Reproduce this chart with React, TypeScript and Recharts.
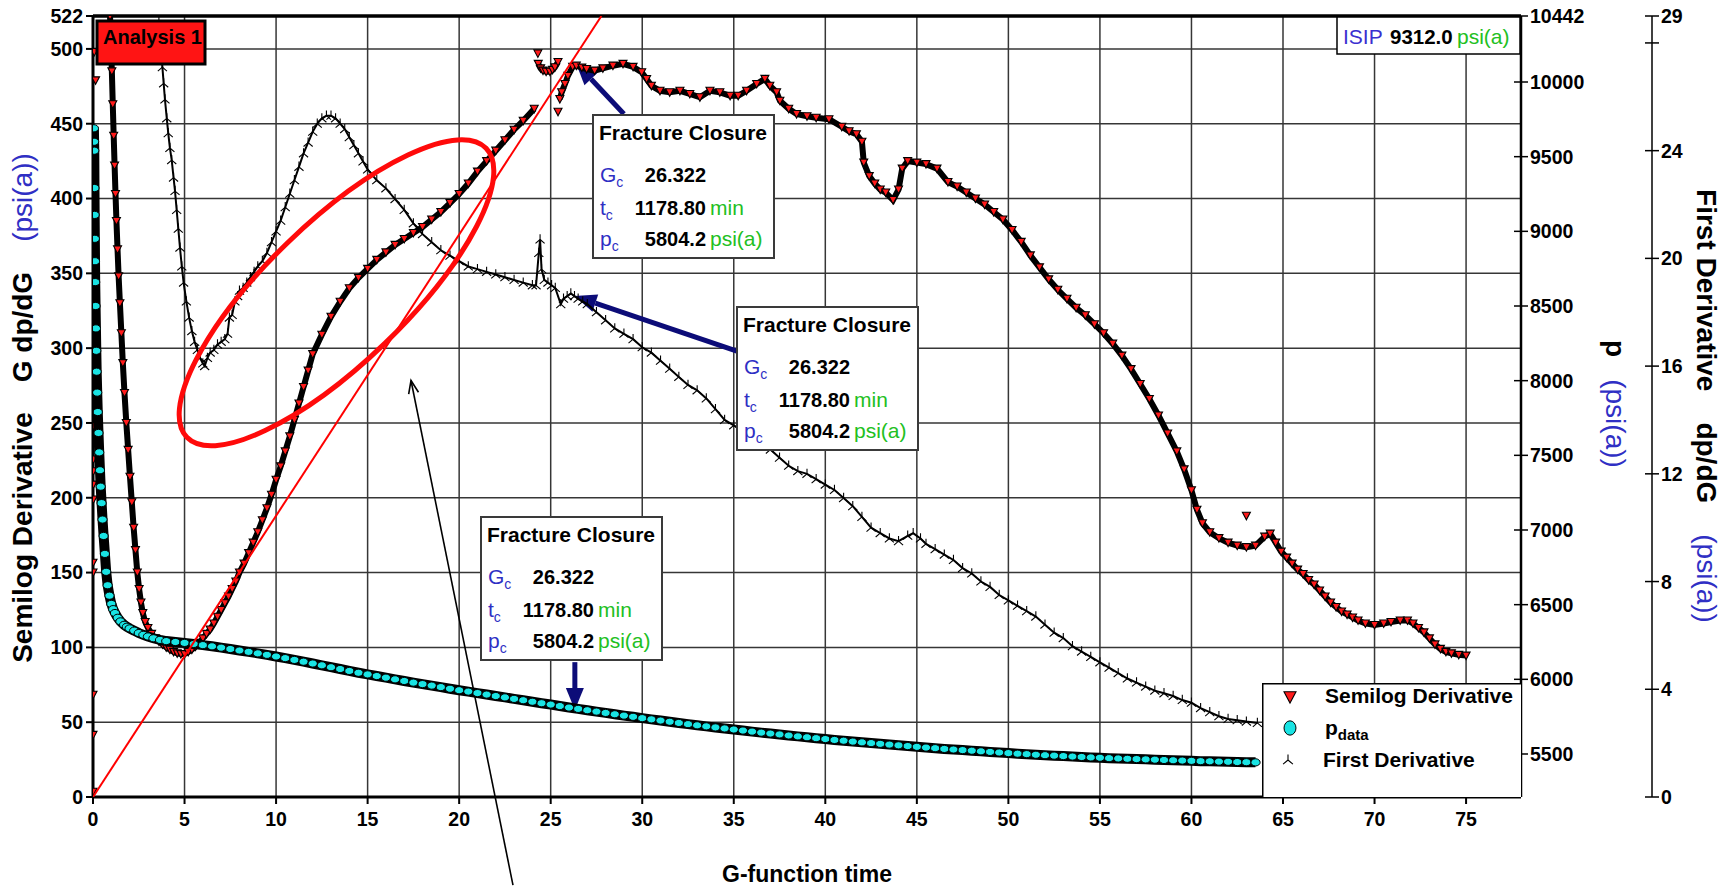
import React from "react";
import {
  ComposedChart,
  Scatter,
  XAxis,
  YAxis,
  CartesianGrid,
  ReferenceLine,
  ReferenceDot,
  Legend,
} from "recharts";

const FONT = "'Liberation Sans', Arial, Helvetica, sans-serif";
const BLUE = "#2f2fc4";
const GREEN = "#22c022";
const NAVY = "#0c0c78";

// axes
const gTicks = [0, 5, 10, 15, 20, 25, 30, 35, 40, 45, 50, 55, 60, 65, 70, 75];
const semilogTicks = [0, 50, 100, 150, 200, 250, 300, 350, 400, 450, 500, 522];
const pressureTicks = [5500, 6000, 6500, 7000, 7500, 8000, 8500, 9000, 9500, 10000, 10442];
const derivTicks = [0, 4, 8, 12, 16, 20, 24, 28, 29];

// closure pick / ISIP
const closureG = "26.322";
const closureT = "1178.80";
const closureP = "5804.2";
const isipValue = "9312.0";

// Semilog derivative G dp/dG [G, psi]
const semilogLoose = [
  [0.0, 3.5], [0.0, 41.5], [0.0, 68.3], [0.0, 150], [0.0, 156.6], [0.01, 198.8], [0.01, 208.8],
  [0.01, 217.7], [0.01, 225.6], [0.02, 248], [0.07, 498], [0.14, 479], [24.3, 497], [25.4, 458], [63.0, 188],
];
const semilogBranchA = [
  [0.93, 522], [0.98, 505], [1.03, 485], [1.08, 463], [1.13, 442], [1.18, 422], [1.23, 403], [1.28, 385],
  [1.34, 366], [1.4, 348], [1.47, 330], [1.55, 310], [1.63, 290], [1.72, 270], [1.82, 250], [1.92, 232],
  [2.02, 214], [2.12, 197], [2.22, 180], [2.32, 165], [2.42, 150], [2.52, 139], [2.62, 130], [2.72, 123],
  [2.85, 117], [3.0, 113], [3.2, 109], [3.4, 106], [3.6, 104], [3.8, 102], [4.0, 100], [4.2, 98.5],
  [4.4, 97], [4.6, 96], [4.8, 95.5], [5.0, 95.5], [5.2, 97], [5.4, 98.5], [5.6, 100.5], [5.8, 103],
  [6.0, 106], [6.2, 109], [6.4, 112], [6.6, 116], [6.8, 120.5], [7.0, 125], [7.2, 129.5], [7.4, 134],
  [7.6, 139], [7.8, 144], [8.0, 150], [8.25, 156], [8.5, 163], [8.75, 170], [9.0, 177], [9.25, 185],
  [9.5, 193], [9.75, 202], [10.0, 212], [10.25, 221], [10.5, 231], [10.75, 241], [11.0, 252], [11.25, 263],
  [11.5, 274], [11.75, 285], [12.0, 296], [12.5, 309], [13.0, 321], [13.5, 331], [14.0, 340], [14.5, 347],
  [15.0, 353], [15.5, 359], [16.0, 364], [16.5, 369], [17.0, 373], [17.5, 377], [18.0, 381], [18.5, 386],
  [19.0, 391], [19.5, 397], [20.0, 403], [20.5, 410], [21.0, 418], [21.5, 425], [22.0, 432], [22.5, 439],
  [23.0, 446], [23.5, 452], [24.1, 460],
];
const semilogBranchB = [
  [24.32, 490], [24.45, 487], [24.58, 485.5], [24.75, 484.8], [24.96, 484.8], [25.1, 486], [25.23, 487.7], [25.4, 491.3],
];
const semilogBranchC = [
  [25.5, 466.5], [25.6, 471], [25.78, 476.6], [25.94, 482], [26.2, 488], [26.4, 488.8], [26.7, 487.5], [26.96, 486.6],
  [27.4, 485.5], [27.85, 487], [28.4, 488.8], [28.95, 490], [29.5, 488], [29.97, 484.4], [30.24, 479.9], [30.5, 475.4],
  [30.97, 472], [31.5, 471], [32.06, 472], [32.6, 469.9], [33.15, 467.7], [33.7, 472], [34.24, 471], [34.8, 468.7],
  [35.24, 468.7], [35.7, 472], [36.25, 476.6], [36.7, 480], [36.97, 475.4], [37.34, 471], [37.52, 465.4], [38.0, 460],
  [38.43, 456.5], [39.0, 455], [39.5, 454], [40.2, 453], [40.9, 448], [41.3, 445], [41.7, 443], [42.0, 438],
  [42.1, 424], [42.4, 415], [42.7, 410], [43.0, 406], [43.3, 404], [43.7, 399], [44.0, 406], [44.2, 420],
  [44.5, 425], [45.0, 424], [45.5, 423], [46.1, 420], [46.7, 411], [47.2, 408], [47.7, 404], [48.2, 400],
  [48.7, 396], [49.2, 391], [49.7, 386], [50.2, 379], [50.7, 371], [51.2, 362], [51.7, 354], [52.2, 346],
  [52.7, 339], [53.2, 333], [53.7, 327], [54.2, 322], [54.7, 316], [55.2, 310], [55.7, 303], [56.2, 295],
  [56.7, 286], [57.2, 276], [57.7, 266], [58.2, 255], [58.7, 243], [59.2, 231], [59.6, 219], [60.0, 205],
  [60.3, 192], [60.6, 183], [61.0, 177], [61.5, 173], [62.0, 170], [62.5, 168], [63.0, 167], [63.5, 168],
  [64.0, 174], [64.3, 176], [64.6, 170], [64.9, 164], [65.2, 160], [65.5, 156], [65.8, 152], [66.1, 149],
  [66.4, 145], [66.7, 142], [67.0, 138], [67.3, 134], [67.6, 130], [67.9, 127], [68.2, 124], [68.5, 122],
  [68.8, 120], [69.1, 118], [69.5, 116], [70.0, 115], [70.5, 116], [70.9, 117], [71.4, 118], [71.8, 118],
  [72.1, 116], [72.4, 113], [72.7, 110], [73.0, 106], [73.3, 102], [73.6, 99], [73.9, 97], [74.2, 96],
  [74.6, 95], [75.0, 94.5],
];

// Bottomhole pressure p [G, psi(a)]
const pressureData = [
  [0.05, 9690], [0.06, 9600], [0.07, 9540], [0.08, 9290], [0.09, 9110], [0.1, 8950], [0.11, 8800], [0.12, 8660],
  [0.14, 8500], [0.16, 8350], [0.18, 8200], [0.2, 8060], [0.23, 7920], [0.26, 7790], [0.3, 7650], [0.34, 7520],
  [0.38, 7400], [0.42, 7290], [0.47, 7180], [0.52, 7070], [0.58, 6960], [0.65, 6840], [0.72, 6720], [0.8, 6630],
  [0.9, 6560], [1.0, 6505], [1.1, 6470], [1.2, 6444], [1.35, 6412], [1.5, 6388], [1.7, 6365], [1.85, 6352],
  [2.0, 6341], [2.25, 6326], [2.5, 6310], [2.75, 6298], [3.0, 6287], [3.3, 6275], [3.66, 6264], [4.0, 6256],
  [4.5, 6250], [5.0, 6244], [5.5, 6237], [6.0, 6229], [6.5, 6221], [7.0, 6212], [7.5, 6203], [8.0, 6193],
  [8.5, 6184], [9.0, 6174], [9.5, 6164], [10.0, 6153], [10.5, 6142], [11.0, 6130], [11.5, 6118], [12.0, 6106],
  [12.5, 6094], [13.0, 6081], [13.5, 6069], [14.0, 6056], [14.5, 6044], [15.0, 6033], [15.5, 6022], [16.0, 6011],
  [16.5, 6000], [17.0, 5989], [17.5, 5978], [18.0, 5968], [18.5, 5958], [19.0, 5948], [19.5, 5937], [20.0, 5927],
  [20.5, 5918], [21.0, 5908], [21.5, 5898], [22.0, 5888], [22.5, 5879], [23.0, 5869], [23.5, 5860], [24.0, 5850],
  [24.5, 5840], [25.0, 5831], [25.5, 5821], [26.0, 5811], [26.5, 5802], [27.0, 5793], [27.5, 5784], [28.0, 5775],
  [28.5, 5766], [29.0, 5757], [29.5, 5749], [30.0, 5740], [30.5, 5732], [31.0, 5724], [31.5, 5716], [32.0, 5708],
  [32.5, 5700], [33.0, 5692], [33.5, 5685], [34.0, 5678], [34.5, 5671], [35.0, 5664], [35.5, 5657], [36.0, 5650],
  [36.5, 5643], [37.0, 5637], [37.5, 5631], [38.0, 5624], [38.5, 5618], [39.0, 5612], [39.5, 5606], [40.0, 5600],
  [40.5, 5594], [41.0, 5589], [41.5, 5583], [42.0, 5578], [42.5, 5573], [43.0, 5568], [43.5, 5563], [44.0, 5558],
  [44.5, 5553], [45.0, 5548], [45.5, 5543], [46.0, 5539], [46.5, 5534], [47.0, 5530], [47.5, 5526], [48.0, 5522],
  [48.5, 5518], [49.0, 5514], [49.5, 5510], [50.0, 5506], [50.5, 5502], [51.0, 5499], [51.5, 5495], [52.0, 5492],
  [52.5, 5489], [53.0, 5486], [53.5, 5483], [54.0, 5480], [54.5, 5477], [55.0, 5475], [55.5, 5472], [56.0, 5470],
  [56.5, 5468], [57.0, 5466], [57.5, 5464], [58.0, 5462], [58.5, 5460], [59.0, 5458], [59.5, 5456], [60.0, 5454],
  [60.5, 5452], [61.0, 5451], [61.5, 5449], [62.0, 5448], [62.5, 5446], [63.0, 5445], [63.5, 5444],
];

// First derivative dp/dG [G, psi]
const firstDerivative = [
  [3.6, 28.8], [3.7, 28.0], [3.79, 27.1], [3.86, 26.5], [3.93, 25.9], [4.03, 25.2], [4.11, 24.65], [4.2, 24.1],
  [4.3, 23.65], [4.4, 23.0], [4.48, 22.5], [4.57, 21.8], [4.66, 21.1], [4.75, 20.4], [4.85, 19.7], [4.95, 19.1],
  [5.1, 18.4], [5.25, 17.8], [5.4, 17.3], [5.55, 16.9], [5.7, 16.6], [5.85, 16.3], [6.0, 16.1], [6.1, 16.0],
  [6.25, 16.3], [6.4, 16.5], [6.6, 16.6], [6.8, 16.8], [7.0, 16.9], [7.2, 17.0], [7.35, 17.2], [7.45, 17.8],
  [7.6, 17.9], [7.75, 18.4], [7.9, 18.6], [8.0, 18.8], [8.2, 18.9], [8.4, 19.1], [8.6, 19.3], [8.8, 19.5],
  [9.0, 19.7], [9.25, 19.9], [9.5, 20.2], [9.75, 20.6], [10.0, 21.0], [10.25, 21.4], [10.5, 21.9], [10.75, 22.4],
  [11.0, 22.9], [11.25, 23.4], [11.5, 23.9], [11.75, 24.3], [12.0, 24.7], [12.25, 25.0], [12.5, 25.2], [12.75, 25.3],
  [13.0, 25.3], [13.25, 25.2], [13.5, 25.0], [13.75, 24.8], [14.0, 24.5], [14.25, 24.2], [14.5, 23.9], [14.75, 23.6],
  [15.0, 23.3], [15.5, 22.9], [16.0, 22.6], [16.5, 22.2], [17.0, 21.8], [17.5, 21.3], [18.0, 20.9], [18.5, 20.6],
  [19.0, 20.3], [19.5, 20.1], [20.0, 19.9], [20.5, 19.7], [21.0, 19.6], [21.5, 19.5], [22.0, 19.4], [22.5, 19.3],
  [23.0, 19.2], [23.5, 19.1], [24.0, 19.0], [24.2, 19.0], [24.35, 20.2], [24.42, 20.7], [24.5, 19.6], [24.65, 19.2],
  [24.85, 19.1], [25.05, 19.0], [25.25, 18.9], [25.55, 18.3], [25.7, 18.5], [25.9, 18.6], [26.1, 18.7], [26.3, 18.6],
  [26.5, 18.5], [26.75, 18.4], [27.0, 18.3], [27.5, 18.0], [28.0, 17.7], [28.5, 17.4], [29.0, 17.2], [29.5, 17.0],
  [30.0, 16.7], [30.5, 16.5], [31.0, 16.2], [31.5, 15.9], [32.0, 15.6], [32.5, 15.3], [33.0, 15.1], [33.5, 14.8],
  [34.0, 14.4], [34.5, 14.0], [35.0, 13.8], [35.5, 13.6], [36.0, 13.4], [36.5, 13.2], [37.0, 12.9], [37.5, 12.6],
  [38.0, 12.3], [38.5, 12.1], [39.0, 12.0], [39.5, 11.8], [40.0, 11.6], [40.5, 11.4], [41.0, 11.1], [41.5, 10.8],
  [42.0, 10.4], [42.5, 10.0], [43.0, 9.8], [43.5, 9.6], [44.0, 9.5], [44.5, 9.7], [44.8, 9.8], [45.2, 9.6],
  [45.5, 9.4], [46.0, 9.2], [46.5, 9.0], [47.0, 8.8], [47.5, 8.5], [48.0, 8.3], [48.5, 8.0], [49.0, 7.8],
  [49.5, 7.5], [50.0, 7.3], [50.5, 7.1], [51.0, 6.9], [51.5, 6.7], [52.0, 6.4], [52.5, 6.1], [53.0, 5.9],
  [53.5, 5.6], [54.0, 5.4], [54.5, 5.2], [55.0, 5.0], [55.5, 4.8], [56.0, 4.6], [56.5, 4.4], [57.0, 4.25],
  [57.5, 4.1], [58.0, 3.95], [58.5, 3.85], [59.0, 3.75], [59.5, 3.6], [60.0, 3.5], [60.5, 3.3], [61.0, 3.15],
  [61.5, 3.0], [62.0, 2.9], [62.5, 2.85], [63.0, 2.8], [63.6, 2.75],
];

// straight line through origin on the semilog plot
const fitLine = [[0, 0], [27.77, 522]];

// annotation anchors in data units [G, value on given axis]
const arrowSemilog = [[29.0, 456.5], [26.38, 490.6]];
const arrowDeriv = [[35.17, 16.56], [26.3, 18.6]];
const arrowPressure = [[26.32, 6115], [26.32, 5794]];
const pointerArrow = [[22.94, -58.9], [17.37, 278.4]];
const ellipseCenter = [13.3, 337];

const pts = (rows: number[][]) => rows.map(([x, y]) => ({ x, y }));

function SemilogMark(props: any) {
  const { cx, cy } = props;
  const s = props.s || 1;
  if (cx == null || cy == null) return <g />;
  return (
    <polygon
      points={`${cx - 4 * s},${cy - 3.5 * s} ${cx + 4 * s},${cy - 3.5 * s} ${cx},${cy + 4 * s}`}
      fill="#ff1a1a"
      stroke="#000"
      strokeWidth={1.1}
    />
  );
}

function PressureMark(props: any) {
  const { cx, cy } = props;
  const s = props.s || 1;
  const ry = props.ry || 3.6;
  if (cx == null || cy == null) return <g />;
  return <ellipse cx={cx} cy={cy} rx={4.6 * s} ry={ry * s} fill="#19e3e3" stroke="#000" strokeWidth={1} />;
}

function DerivMark(props: any) {
  const { cx, cy } = props;
  const s = props.s || 1.3;
  if (cx == null || cy == null) return <g />;
  return (
    <path
      d={`M${cx},${cy} L${cx},${cy - 4 * s} M${cx},${cy} L${cx - 3.5 * s},${cy + 3 * s} M${cx},${cy} L${cx + 3.5 * s},${cy + 3 * s}`}
      stroke="#000"
      strokeWidth={1.1}
      fill="none"
    />
  );
}

const NoMark = () => <g />;

function navyArrow(p: any) {
  const { x1, y1, x2, y2 } = p;
  const len = Math.hypot(x2 - x1, y2 - y1) || 1;
  const ux = (x2 - x1) / len;
  const uy = (y2 - y1) / len;
  const hl = 22;
  const hw = 9;
  const bx = x2 - ux * hl;
  const by = y2 - uy * hl;
  return (
    <g>
      <line x1={x1} y1={y1} x2={bx} y2={by} stroke={NAVY} strokeWidth={5} />
      <polygon
        points={`${x2},${y2} ${bx - uy * hw},${by + ux * hw} ${bx + uy * hw},${by - ux * hw}`}
        fill={NAVY}
      />
    </g>
  );
}

function thinArrow(p: any) {
  const { x1, y1, x2, y2 } = p;
  const len = Math.hypot(x2 - x1, y2 - y1) || 1;
  const ux = (x2 - x1) / len;
  const uy = (y2 - y1) / len;
  const bx = x2 - ux * 13;
  const by = y2 - uy * 13;
  return (
    <g stroke="#000" strokeWidth={1.6} fill="none">
      <line x1={x1} y1={y1} x2={x2} y2={y2} />
      <polyline points={`${bx - uy * 5},${by + ux * 5} ${x2},${y2} ${bx + uy * 5},${by - ux * 5}`} />
    </g>
  );
}

function redEllipse(p: any) {
  const { cx, cy } = p;
  if (cx == null) return <g />;
  return (
    <ellipse
      cx={cx}
      cy={cy}
      rx={208}
      ry={70}
      transform={`rotate(-44 ${cx} ${cy})`}
      fill="none"
      stroke="#ff0a0a"
      strokeWidth={5}
    />
  );
}

const crossTick = (hide?: number) => (props: any) => {
  const { x, y, payload } = props;
  return (
    <g>
      <line x1={x - 7} x2={x + 7} y1={y} y2={y} stroke="#000" strokeWidth={1.5} />
      {payload.value !== hide && (
        <text x={x + 9} y={y} dy="0.36em" fontFamily={FONT} fontSize={19.5} fontWeight={700} fill="#000">
          {payload.value}
        </text>
      )}
    </g>
  );
};

const tickFont = { fill: "#000", fontSize: 19.5, fontWeight: 700, fontFamily: FONT };

function LegendBox() {
  return (
    <svg width={259} height={114} style={{ display: "block" }}>
      <rect x={0.75} y={0.75} width={259} height={114} fill="#fff" stroke="#000" strokeWidth={1.5} />
      <SemilogMark cx={28} cy={14} s={1.5} />
      <PressureMark cx={28} cy={45} s={1.3} ry={5.5} />
      <DerivMark cx={26} cy={77} s={1.4} />
      <g fontFamily={FONT} fontWeight={700} fontSize={21} fill="#000">
        <text x={63} y={20}>Semilog Derivative</text>
        <text x={63} y={52}>
          p<tspan fontSize={15} dy={5}>data</tspan>
        </text>
        <text x={61} y={84}>First Derivative</text>
      </g>
    </svg>
  );
}

function ClosureBox({ x, y }: { x: number; y: number }) {
  const rows = [
    { sym: "G", val: closureG, unit: "", base: 67 },
    { sym: "t", val: closureT, unit: "min", base: 100 },
    { sym: "p", val: closureP, unit: "psi(a)", base: 131 },
  ];
  return (
    <g transform={`translate(${x},${y})`} fontFamily={FONT}>
      <rect x={0} y={0} width={181} height={143} fill="#fff" stroke="#3a3a3a" strokeWidth={2} />
      <text x={6} y={25} fontSize={21} fontWeight={700} fill="#000">
        Fracture Closure
      </text>
      {rows.map((r) => (
        <g key={r.sym}>
          <text x={7} y={r.base} fontSize={21} fill={BLUE}>
            {r.sym}
            <tspan fontSize={14} dy={5}>c</tspan>
          </text>
          <text x={113} y={r.base} textAnchor="end" fontSize={20} fontWeight={700} fill="#000">
            {r.val}
          </text>
          {r.unit && (
            <text x={117} y={r.base} fontSize={21} fill={GREEN}>
              {r.unit}
            </text>
          )}
        </g>
      ))}
    </g>
  );
}

function Overlay() {
  return (
    <svg
      width={1731}
      height={888}
      style={{ position: "absolute", left: 0, top: 0, pointerEvents: "none" }}
    >
      <rect x={97} y={21} width={108} height={43} fill="#ff1414" stroke="#000" strokeWidth={3} />
      <text x={103} y={44} fontFamily={FONT} fontSize={20} fontWeight={700} fill="#000">
        Analysis 1
      </text>
      <rect x={1337} y={17} width={183} height={37} fill="#fff" stroke="#000" strokeWidth={1.5} />
      <g fontFamily={FONT} fontSize={21}>
        <text x={1343} y={44} fill="#3a2fd0">ISIP</text>
        <text x={1390} y={44} fontWeight={700} fontSize={20.5} fill="#000">{isipValue}</text>
        <text x={1457} y={44} fill={GREEN}>psi(a)</text>
      </g>
      <ClosureBox x={593} y={115} />
      <ClosureBox x={737} y={307} />
      <ClosureBox x={481} y={517} />
    </svg>
  );
}

const LeftTitle = () => (
  <text x={32} y={408} transform="rotate(-90 32 408)" textAnchor="middle" fontFamily={FONT} fontSize={28} fill="#000">
    <tspan fontWeight={700}>Semilog Derivative</tspan>
    <tspan dx={30} fontWeight={700}>G dp/dG</tspan>
    <tspan dx={30} fill={BLUE}>(psi(a))</tspan>
  </text>
);

const PressureTitle = () => (
  <text x={1606} y={404} transform="rotate(90 1606 404)" textAnchor="middle" fontFamily={FONT} fontSize={28} fill="#000">
    <tspan fontWeight={700}>p</tspan>
    <tspan dx={22} fill={BLUE}>(psi(a))</tspan>
  </text>
);

const DerivTitle = () => (
  <text x={1697} y={406} transform="rotate(90 1697 406)" textAnchor="middle" fontFamily={FONT} fontSize={28} fill="#000">
    <tspan fontWeight={700}>First Derivative</tspan>
    <tspan dx={31} fontWeight={700}>dp/dG</tspan>
    <tspan dx={31} fill={BLUE}>(psi(a))</tspan>
  </text>
);

const XTitle = () => (
  <text x={807} y={882} textAnchor="middle" fontFamily={FONT} fontSize={23} fontWeight={700} fill="#000">
    G-function time
  </text>
);

export default function App() {
  return (
    <div style={{ position: "absolute", left: 0, top: 0, width: 1731, height: 888, background: "#fff" }}>
      <ComposedChart width={1731} height={888} margin={{ top: 16, right: 19, bottom: 51, left: 13 }}>
        <CartesianGrid yAxisId="left" stroke="#363636" strokeWidth={1.5} />
        <XAxis
          type="number"
          dataKey="x"
          domain={[0, 78]}
          ticks={gTicks}
          interval={0}
          allowDataOverflow
          height={40}
          tickSize={7}
          tickMargin={8}
          axisLine={{ stroke: "#000", strokeWidth: 3 }}
          tickLine={{ stroke: "#000", strokeWidth: 2 }}
          tick={tickFont}
          label={{ content: () => <XTitle /> }}
        />
        <YAxis
          yAxisId="left"
          dataKey="y"
          type="number"
          domain={[0, 522]}
          ticks={semilogTicks}
          interval={0}
          allowDataOverflow
          width={80}
          tickSize={7}
          tickMargin={3}
          axisLine={{ stroke: "#000", strokeWidth: 3 }}
          tickLine={{ stroke: "#000", strokeWidth: 2 }}
          tick={tickFont}
          label={{ content: () => <LeftTitle /> }}
        />
        <YAxis
          yAxisId="p2"
          orientation="right"
          dataKey="y"
          type="number"
          domain={[0, 29]}
          ticks={derivTicks}
          interval={0}
          allowDataOverflow
          width={60}
          tickSize={0}
          tickMargin={0}
          tickLine={false}
          axisLine={{ stroke: "#000", strokeWidth: 1.5 }}
          tick={crossTick(28)}
          label={{ content: () => <DerivTitle /> }}
        />
        <YAxis
          yAxisId="p1"
          orientation="right"
          dataKey="y"
          type="number"
          domain={[5212, 10442]}
          ticks={pressureTicks}
          interval={0}
          allowDataOverflow
          width={131}
          tickSize={0}
          tickMargin={0}
          tickLine={false}
          axisLine={{ stroke: "#000", strokeWidth: 2.5 }}
          tick={crossTick()}
          label={{ content: () => <PressureTitle /> }}
        />
        <ReferenceLine yAxisId="left" y={522} stroke="#000" strokeWidth={3.5} ifOverflow="visible" />

        <Scatter data={pts(semilogBranchA)} yAxisId="left" shape={SemilogMark} line={{ stroke: "#000", strokeWidth: 6 }} isAnimationActive={false} />
        <Scatter data={pts(semilogBranchB)} yAxisId="left" shape={SemilogMark} line={{ stroke: "#000", strokeWidth: 6 }} isAnimationActive={false} />
        <Scatter data={pts(semilogBranchC)} yAxisId="left" shape={SemilogMark} line={{ stroke: "#000", strokeWidth: 6 }} isAnimationActive={false} />
        <Scatter data={pts(semilogLoose)} yAxisId="left" shape={SemilogMark} isAnimationActive={false} />
        <Scatter data={pts(firstDerivative)} yAxisId="p2" shape={DerivMark} line={{ stroke: "#000", strokeWidth: 2 }} isAnimationActive={false} />
        <Scatter data={pts(pressureData)} yAxisId="p1" shape={PressureMark} line={{ stroke: "#000", strokeWidth: 10 }} isAnimationActive={false} />
        <Scatter data={pts(fitLine)} yAxisId="left" shape={NoMark} line={{ stroke: "#ff0000", strokeWidth: 2 }} isAnimationActive={false} />

        <ReferenceDot yAxisId="left" x={ellipseCenter[0]} y={ellipseCenter[1]} ifOverflow="visible" shape={redEllipse} />
        <ReferenceLine yAxisId="left" segment={pts(pointerArrow)} ifOverflow="visible" shape={thinArrow} />
        <ReferenceLine yAxisId="left" segment={pts(arrowSemilog)} ifOverflow="visible" shape={navyArrow} />
        <ReferenceLine yAxisId="p2" segment={pts(arrowDeriv)} ifOverflow="visible" shape={navyArrow} />
        <ReferenceLine yAxisId="p1" segment={pts(arrowPressure)} ifOverflow="visible" shape={navyArrow} />

        <Legend
          layout="vertical"
          align="center"
          verticalAlign="middle"
          width={259}
          height={114}
          wrapperStyle={{ left: 1262, top: 683, width: 259, height: 114 }}
          content={() => <LegendBox />}
        />
      </ComposedChart>
      <Overlay />
    </div>
  );
}
